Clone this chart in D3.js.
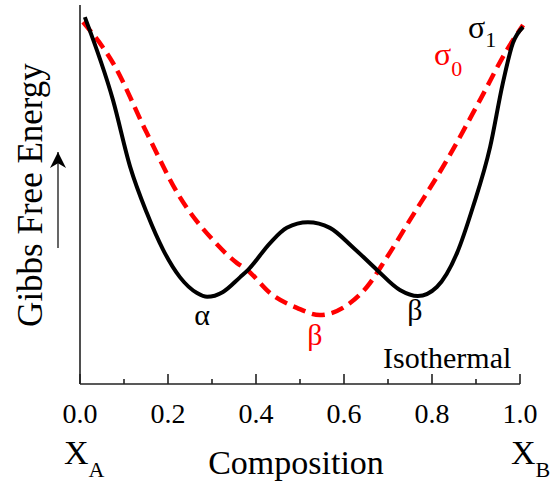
<!DOCTYPE html>
<html>
<head>
<meta charset="utf-8">
<script src="https://cdn.jsdelivr.net/npm/d3@7"></script>
<style>
  html, body { margin: 0; padding: 0; background: #fff; }
  svg { display: block; }
</style>
</head>
<body>
<svg id="chart" width="550" height="484"></svg>
<script>
// Composition (mole fraction of B) for each curve
const sigma1X = [0.011, 0.075, 0.114, 0.152, 0.189, 0.227, 0.266, 0.289, 0.325, 0.364, 0.382, 0.432, 0.470, 0.518, 0.568, 0.620, 0.675, 0.727, 0.768, 0.811, 0.857, 0.893, 0.932, 0.961, 0.984, 1.007];
// Gibbs free energy (arbitrary units) of the sigma1 curve
const sigma1G = [9.68, 7.49, 5.73, 4.51, 3.54, 2.82, 2.40, 2.30, 2.43, 2.82, 3.01, 3.72, 4.12, 4.27, 4.12, 3.61, 3.01, 2.48, 2.32, 2.56, 3.46, 4.67, 6.25, 7.94, 9.00, 9.42];

const sigma0X = [0.007, 0.075, 0.152, 0.227, 0.302, 0.357, 0.380, 0.432, 0.493, 0.545, 0.607, 0.652, 0.698, 0.750, 0.834, 0.909, 0.970, 1.007];
const sigma0G = [9.55, 8.47, 6.62, 4.93, 3.80, 3.19, 3.01, 2.40, 2.01, 1.82, 2.08, 2.56, 3.35, 4.33, 5.91, 7.49, 8.81, 9.47];

const tickValues = [0, 0.1, 0.2, 0.3, 0.4, 0.5, 0.6, 0.7, 0.8, 0.9, 1.0];
const tickLabels = ["0.0", "0.2", "0.4", "0.6", "0.8", "1.0"];

const FONT = "'Liberation Serif', 'DejaVu Serif', 'Times New Roman', Times, serif";

const svg = d3.select("#chart").attr("font-family", FONT);
const x = d3.scaleLinear().domain([0, 1]).range([80, 520]);
const y = d3.scaleLinear().domain([0, 10]).range([384, 5]);

// Axes: left spine and bottom axis with inward ticks
svg.append("line")
  .attr("x1", x(0)).attr("x2", x(0))
  .attr("y1", y(10)).attr("y2", y(0))
  .attr("stroke", "#222").attr("stroke-width", 1.6);

svg.append("line")
  .attr("x1", x(0)).attr("x2", x(1))
  .attr("y1", y(0)).attr("y2", y(0))
  .attr("stroke", "#222").attr("stroke-width", 1.6);

svg.selectAll("line.tick")
  .data(tickValues)
  .enter().append("line")
  .attr("class", "tick")
  .attr("x1", d => x(d)).attr("x2", d => x(d))
  .attr("y1", y(0))
  .attr("y2", (d, i) => y(0) - (i % 2 === 0 ? 10 : 5))
  .attr("stroke", "#222").attr("stroke-width", 1.6);

svg.selectAll("text.ticklabel")
  .data(tickLabels)
  .enter().append("text")
  .attr("class", "ticklabel")
  .attr("font-family", FONT)
  .attr("x", d => x(+d))
  .attr("y", 423)
  .attr("text-anchor", "middle")
  .attr("font-size", 28)
  .text(d => d);

// Curves
const line = d3.line()
  .x(d => x(d[0]))
  .y(d => y(d[1]))
  .curve(d3.curveMonotoneX);

svg.append("path")
  .datum(sigma0X.map((v, i) => [v, sigma0G[i]]))
  .attr("d", line)
  .attr("fill", "none")
  .attr("stroke", "#ff0000")
  .attr("stroke-width", 4.5)
  .attr("stroke-dasharray", "13,7");

svg.append("path")
  .datum(sigma1X.map((v, i) => [v, sigma1G[i]]))
  .attr("d", line)
  .attr("fill", "none")
  .attr("stroke", "#000")
  .attr("stroke-width", 4);

// Axis titles
svg.append("text")
  .attr("font-family", FONT)
  .attr("transform", "translate(42,195) rotate(-90)")
  .attr("text-anchor", "middle")
  .attr("font-size", 35)
  .text("Gibbs Free Energy");

svg.append("defs").append("marker")
  .attr("id", "arrowhead")
  .attr("viewBox", "0 0 10 10")
  .attr("refX", 10).attr("refY", 5)
  .attr("markerWidth", 16).attr("markerHeight", 16)
  .attr("markerUnits", "userSpaceOnUse")
  .attr("orient", "auto")
  .append("path")
  .attr("d", "M0,0 L10,5 L0,10 L3,5 Z")
  .attr("fill", "#000");

svg.append("line")
  .attr("x1", 58).attr("x2", 58)
  .attr("y1", 248).attr("y2", 152)
  .attr("stroke", "#000").attr("stroke-width", 1.2)
  .attr("marker-end", "url(#arrowhead)");

svg.append("text")
  .attr("font-family", FONT)
  .attr("x", 296).attr("y", 474)
  .attr("text-anchor", "middle")
  .attr("font-size", 34)
  .text("Composition");

const xa = svg.append("text").attr("font-family", FONT).attr("x", 64).attr("y", 464).attr("font-size", 34);
xa.append("tspan").text("X");
xa.append("tspan").attr("dy", 13).attr("font-size", 22).text("A");

const xb = svg.append("text").attr("font-family", FONT).attr("x", 511).attr("y", 464).attr("font-size", 34);
xb.append("tspan").text("X");
xb.append("tspan").attr("dy", 13).attr("font-size", 22).text("B");

// Phase and curve labels
svg.append("text").attr("font-family", FONT).attr("x", 202).attr("y", 325)
  .attr("text-anchor", "middle").attr("font-size", 30).text("α");
svg.append("text").attr("font-family", FONT).attr("x", 315).attr("y", 345)
  .attr("text-anchor", "middle").attr("font-size", 30).attr("fill", "#ff0000").text("β");
svg.append("text").attr("font-family", FONT).attr("x", 415).attr("y", 320)
  .attr("text-anchor", "middle").attr("font-size", 30).text("β");
svg.append("text").attr("font-family", FONT).attr("x", 383).attr("y", 368)
  .attr("font-size", 30).text("Isothermal");

const s1 = svg.append("text").attr("font-family", FONT).attr("x", 468).attr("y", 38).attr("font-size", 32);
s1.append("tspan").text("σ");
s1.append("tspan").attr("dy", 9).attr("font-size", 22).text("1");

const s0 = svg.append("text").attr("font-family", FONT).attr("x", 434).attr("y", 65).attr("font-size", 32).attr("fill", "#ff0000");
s0.append("tspan").text("σ");
s0.append("tspan").attr("dy", 11).attr("font-size", 22).text("0");
</script>
</body>
</html>
